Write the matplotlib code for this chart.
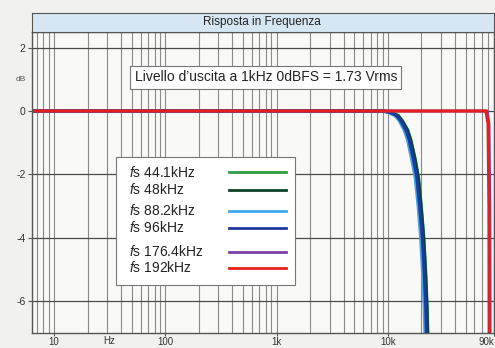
import numpy as np
import matplotlib.pyplot as plt
from matplotlib.patches import Rectangle

plt.rcParams['font.family'] = ['Liberation Sans', 'DejaVu Sans']
plt.rcParams['mathtext.fontset'] = 'custom'
plt.rcParams['mathtext.it'] = 'Liberation Sans:italic'
plt.rcParams['mathtext.rm'] = 'Liberation Sans'

# roll-off of the 44.1k..96k group (dB values shared, frequencies per curve)
db_lo = [0, 0, -0.05, -0.15, -0.3, -0.6, -0.9, -1.5, -2.1, -3.0, -4.0, -5.2, -6.2, -7.5]
f_441 = [6.3, 9300, 10900, 12500, 13500, 15100, 16100, 17600, 18900, 20000, 21100, 22000, 22600, 23100]
f_48 = [6.3, 9200, 10800, 12400, 13400, 15000, 16000, 17500, 18800, 19900, 21000, 21900, 22500, 23000]
f_882 = [6.3, 8700, 10100, 11600, 12600, 14000, 15000, 16300, 17600, 18700, 19700, 20600, 21200, 21700]
f_96 = [6.3, 9000, 10500, 12000, 13000, 14500, 15500, 16900, 18200, 19300, 20400, 21300, 21900, 22400]

db_hi = [0, 0, -0.4, -3.0, -8.0]
f_1764 = [6.3, 78000, 81000, 82500, 83000]
f_192 = [6.3, 76000, 79500, 81000, 81500]

labels = ['44.1kHz', '48kHz', '88.2kHz', '96kHz', '176.4kHz', '192kHz']
colors = ['#2f9a45', '#0e4228', '#3ea8ea', '#1f3a9e', '#7b3fa6', '#e3201e']
curves = [(f_441, db_lo), (f_48, db_lo), (f_882, db_lo), (f_96, db_lo),
          (f_1764, db_hi), (f_192, db_hi)]

xticks = [10, 100, 1000, 10000, 90000]
xticklabels = ['10', '100', '1k', '10k', '90k']
yticks = [-6, -4, -2, 0, 2]

W, H = 495, 348
fig = plt.figure(figsize=(W / 100, H / 100), dpi=100, facecolor='#f1f2ef')
L, R, T, B = 31.7, 494, 31.7, 333
ax = fig.add_axes([L / W, 1 - B / H, (R - L) / W, (B - T) / H])
ax.set_facecolor('#f9f9f7')

# title bar
tb = fig.add_axes([L / W, 1 - T / H, (R - L) / W, (T - 13.3) / H])
tb.set_facecolor('#d6e7f3')
tb.set_xticks([])
tb.set_yticks([])
for s in tb.spines.values():
    s.set_color('#555555')
tb.text((262 - L) / (R - L), 0.5, 'Risposta in Frequenza', ha='center',
        va='center', fontsize=8.5, color='#222222')

ax.set_xscale('log')
ax.set_xlim(6.3, 90000)
ax.set_ylim(-7, 2.5)

ax.set_xticks(xticks)
ax.set_xticklabels(xticklabels)
ax.get_xticklabels()[-1].set_ha('right')
ax.set_xticks([m * 10 ** e for e in range(0, 5) for m in range(2, 10)
               if 6.3 < m * 10 ** e < 90000], minor=True)
ax.set_yticks(yticks)
ax.set_yticklabels([str(v) for v in yticks])
ax.tick_params(axis='y', which='major', labelsize=7.5, colors='#555555',
               labelcolor='#333333', length=3, pad=1.5)
ax.tick_params(axis='x', which='major', labelsize=7, colors='#555555',
               labelcolor='#333333', length=2, pad=1)
ax.tick_params(axis='x', which='minor', length=0)
ax.grid(True, axis='x', which='both', color='#8a8a8a', lw=0.8)
ax.grid(True, axis='y', which='major', color='#4a4a4a', lw=0.9)
for s in ax.spines.values():
    s.set_color('#555555')
    s.set_linewidth(1.0)

ax.text(-0.012, 1.0, 'dB', transform=ax.get_yaxis_transform(), ha='right',
        va='center', fontsize=6, color='#555555')
ax.text(31.6, -0.01, 'Hz', transform=ax.get_xaxis_transform(), ha='center',
        va='top', fontsize=7, color='#333333')

for (f, d), c in zip(curves, colors):
    ax.plot(f, d, color=c, lw=2.2, solid_capstyle='butt')

ax.text(802, 1.06, 'Livello d\u2019uscita a 1kHz 0dBFS = 1.73 Vrms', ha='center',
        va='center', fontsize=10, color='#222222',
        bbox=dict(boxstyle='square,pad=0.3', fc='white', ec='#777777', lw=0.8))

# legend box
ax.add_patch(Rectangle((0.183, 0.160), 0.387, 0.423, transform=ax.transAxes,
                       fc='white', ec='#777777', lw=0.8, zorder=5))
ys = [0.534, 0.475, 0.406, 0.350, 0.269, 0.216]
for y, lab, c in zip(ys, labels, colors):
    ax.text(0.211, y, r'$f$s ' + lab, transform=ax.transAxes, ha='left',
            va='center', fontsize=10, color='#222222', zorder=6)
    ax.plot([0.426, 0.551], [y, y], transform=ax.transAxes, color=c, lw=2.0, zorder=6)

fig.savefig('out.png', dpi=100, facecolor=fig.get_facecolor())
